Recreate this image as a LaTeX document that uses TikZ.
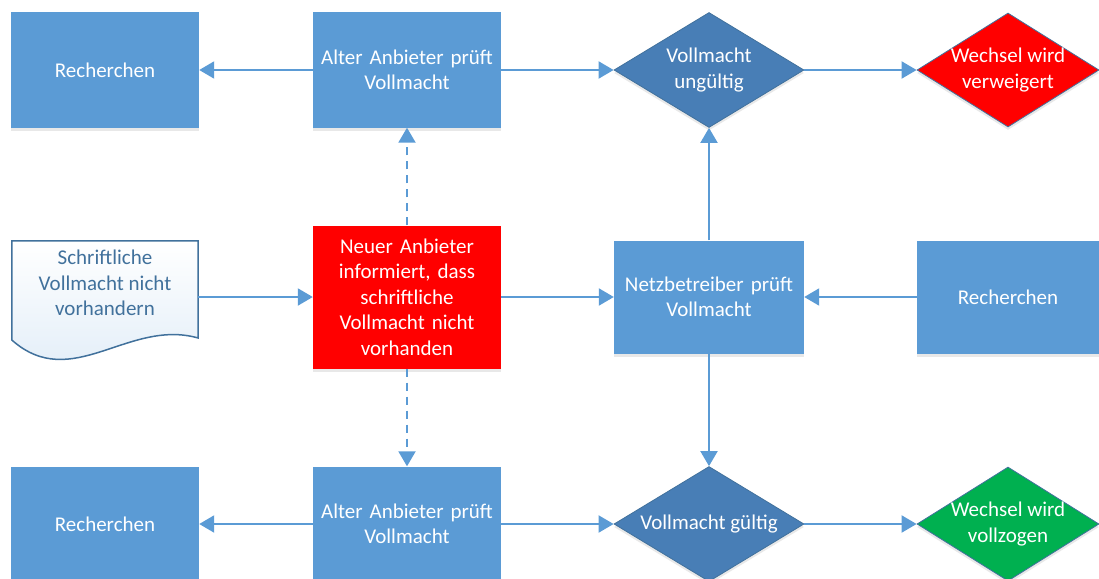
\documentclass[tikz,border=0pt]{standalone}
\usepackage{fontspec}
\setmainfont{Carlito}
\usetikzlibrary{arrows.meta,positioning,calc,shapes.geometric,shadows}
\definecolor{boxblue}{RGB}{91,155,213}
\definecolor{diablue}{RGB}{72,126,182}
\definecolor{lineblue}{RGB}{65,113,156}
\definecolor{docfill}{RGB}{222,235,247}
\definecolor{alertred}{RGB}{255,0,0}
\definecolor{okgreen}{RGB}{0,176,80}

\begin{document}
\begin{tikzpicture}[
    x=1pt, y=-1pt,
    every node/.style={font=\fontsize{21}{25.5}\selectfont},
    every label/.style={font=\fontsize{21}{25.5}\selectfont, text=white, align=center},
    box/.style={fill=boxblue, text=white, inner sep=0pt, text width=180pt, minimum width=188pt, minimum height=115pt, align=center,
      drop shadow={opacity=0.18, shadow xshift=0pt, shadow yshift=-3pt}},
    dia/.style={diamond, draw=lineblue, line width=0.8pt, fill=diablue, inner sep=0pt, minimum width=190pt, minimum height=115pt,
      drop shadow={opacity=0.18, shadow xshift=0pt, shadow yshift=-3pt}},
    flow/.style={draw=boxblue, line width=2pt, -{Triangle[width=17pt,length=15pt]}},
    flowdash/.style={flow, dash pattern=on 8pt off 6pt}
  ]
    \useasboundingbox (0,0) rectangle (1099,578);

    % top row
    \node[box] (rechercheA) at (105,70) {Recherchen};
    \node[box] (alterA) at (407,70) {Alter Anbieter prüft\\Vollmacht};
    \node[dia, label={center:Vollmacht\\ungültig}] (ungueltig) at (709,70) {};
    \node[dia, fill=alertred, minimum width=182pt, minimum height=114pt, label={center:Wechsel wird\\verweigert}] (verweigert) at (1008,70) {};

    % middle row
    \node[minimum width=186pt, minimum height=112pt] (doc) at (105,297) {};
    \fill[top color=white, bottom color=docfill, draw=lineblue, line width=1.5pt]
      (doc.north west) -- (doc.north east) -- ($(doc.east)+(0,41)$)
      .. controls ($(doc.south east)+(-70,-35)$) and ($(doc.south west)+(60,40)$) .. ($(doc.west)+(0,43)$) -- cycle;
    \node[text=lineblue, align=center] (doctext) at ([yshift=14pt]doc.center) {Schriftliche\\Vollmacht nicht\\vorhandern};
    \node[box, fill=alertred, minimum height=143pt, inner sep=4pt] (neuer) at (407,297)
      {Neuer Anbieter\\informiert, dass\\schriftliche\\Vollmacht nicht\\vorhanden};
    \node[box, minimum width=190pt, minimum height=113pt] (netz) at (709,297) {Netzbetreiber prüft\\Vollmacht};
    \node[box, minimum width=182pt, minimum height=113pt] (rechercheC) at (1008,297) {Recherchen};

    % bottom row
    \node[box] (rechercheB) at (105,524) {Recherchen};
    \node[box] (alterB) at (407,524) {Alter Anbieter prüft\\Vollmacht};
    \node[dia, label={center:Vollmacht gültig}] (gueltig) at (709,524) {};
    \node[dia, fill=okgreen, minimum width=182pt, minimum height=114pt, label={center:Wechsel wird\\vollzogen}] (vollzogen) at (1008,524) {};

    % connectors
    \draw[flow] (alterA) -- (rechercheA);
    \draw[flow] (alterA) -- (ungueltig);
    \draw[flow] (ungueltig) -- (verweigert);
    \draw[flow] (doc.east) -- (neuer);
    \draw[flow] (neuer) -- (netz);
    \draw[flow] (rechercheC) -- (netz);
    \draw[flow] (netz) -- (ungueltig);
    \draw[flow] (netz) -- (gueltig);
    \draw[flowdash] (neuer) -- (alterA);
    \draw[flowdash] (neuer) -- (alterB);
    \draw[flow] (alterB) -- (rechercheB);
    \draw[flow] (alterB) -- (gueltig);
    \draw[flow] (gueltig) -- (vollzogen);
  \end{tikzpicture}
\end{document}
